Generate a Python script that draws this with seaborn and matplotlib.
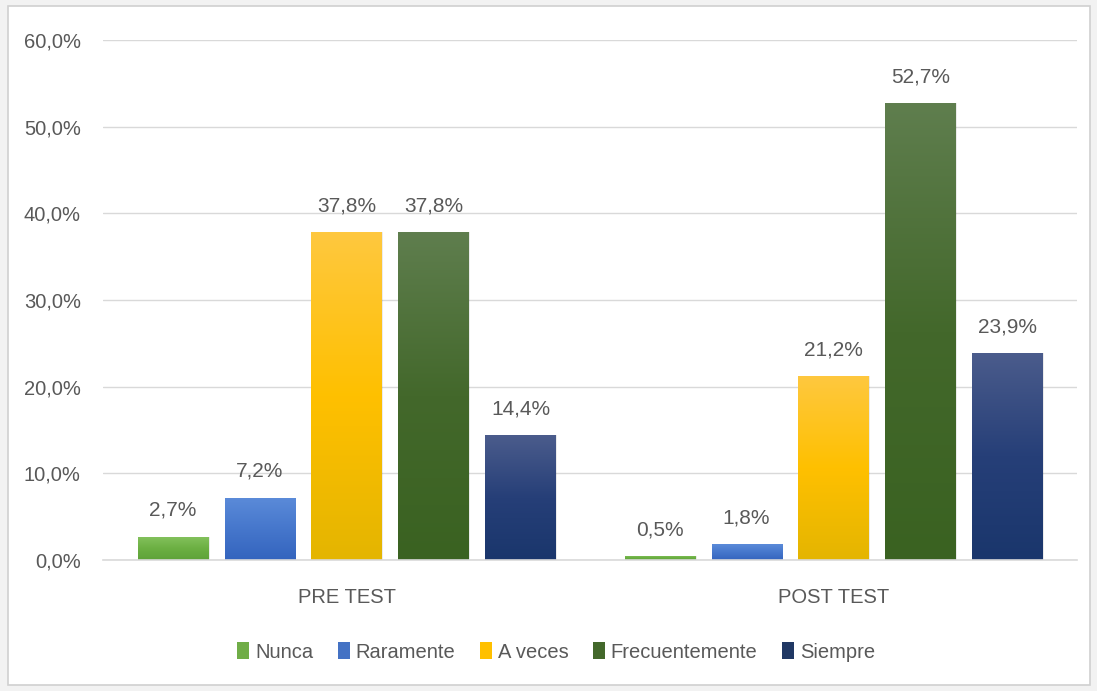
import matplotlib
matplotlib.use("Agg")
import matplotlib.pyplot as plt
import numpy as np
import pandas as pd
import seaborn as sns
from matplotlib.colors import LinearSegmentedColormap
from matplotlib.patches import Patch, Rectangle

# data
grupos = ["PRE TEST", "POST TEST"]
respuestas = ["Nunca", "Raramente", "A veces", "Frecuentemente", "Siempre"]
pre_test = [2.7, 7.2, 37.8, 37.8, 14.4]
post_test = [0.5, 1.8, 21.2, 52.7, 23.9]

# base colour plus gradient stops (top, middle, bottom)
colores = ["#70AD47", "#4472C4", "#FFC000", "#43682B", "#203864"]
gradientes = [
    ["#84C25E", "#6CB043", "#5EA238"],
    ["#5B8BD9", "#4677CC", "#3464BE"],
    ["#FEC83F", "#FFC000", "#E4B500"],
    ["#5F7E4E", "#43682B", "#3A6221"],
    ["#4B5C8C", "#263F78", "#1A366C"],
]

filas = []
for g, vals in zip(grupos, [pre_test, post_test]):
    for r, v in zip(respuestas, vals):
        filas.append({"Prueba": g, "Respuesta": r, "Porcentaje": v})
df = pd.DataFrame(filas)

sns.set_theme(style="white")
plt.rcParams["font.family"] = ["Liberation Sans Narrow", "Liberation Sans", "DejaVu Sans"]
gris = "#595959"

fig = plt.figure(figsize=(10.97, 6.91), dpi=100)
fig.patch.set_facecolor("#F2F2F2")
# white chart area inside the frame
fig.patches.append(Rectangle((8 / 1097, 6 / 691), 1082 / 1097, 679 / 691,
                             transform=fig.transFigure, facecolor="white",
                             edgecolor="#D0D0D0", linewidth=1.2, zorder=-5))
ax = fig.add_axes([103 / 1097, 1 - 560 / 691, 974 / 1097, 520 / 691])
ax.set_facecolor("none")

sns.barplot(data=df, x="Prueba", y="Porcentaje", hue="Respuesta",
            order=grupos, hue_order=respuestas, palette=colores,
            width=0.893, gap=0.195, legend=False, ax=ax, errorbar=None)

ax.set_ylim(0, 60)
ax.set_xlim(-0.5, 1.5)
ax.set_yticks(np.arange(0, 61, 10))
ax.set_yticklabels([f"{t:.1f}%".replace(".", ",") for t in np.arange(0, 61, 10)])
ax.set_xlabel("")
ax.set_ylabel("")
ax.yaxis.grid(True, color="#D9D9D9", linewidth=1)
ax.set_axisbelow(True)
for s in ["left", "right", "top"]:
    ax.spines[s].set_visible(False)
ax.spines["bottom"].set_color("#D9D9D9")
ax.spines["bottom"].set_linewidth(1.2)
ax.tick_params(axis="y", length=0, pad=16, labelsize=14.5, labelcolor=gris)
ax.tick_params(axis="x", length=0, pad=20, labelsize=14.5, labelcolor=gris)

# gradient fill for each bar, plus a soft shadow
for cont, stops in zip(ax.containers, gradientes):
    cmap = LinearSegmentedColormap.from_list("g", stops[::-1])
    for bar in cont:
        x, w, h = bar.get_x(), bar.get_width(), bar.get_height()
        ax.add_patch(Rectangle((x + 0.004, 0), w, h, color="black",
                               alpha=0.08, zorder=1.5, linewidth=0))
        grad = np.linspace(0, 1, 256).reshape(-1, 1)
        im = ax.imshow(grad, cmap=cmap, aspect="auto", origin="lower",
                       extent=[x, x + w, 0, h], zorder=2)
        im.set_clip_path(bar)
        bar.set_facecolor("none")
        bar.set_edgecolor("none")
    labels = [f"{b.get_height():.1f}%".replace(".", ",") for b in cont]
    ax.bar_label(cont, labels=labels, padding=12, fontsize=15, color=gris)

ax.set_xlim(-0.5, 1.5)
ax.set_ylim(0, 60)

handles = [Patch(facecolor=c, edgecolor="none") for c in colores]
fig.legend(handles, respuestas, loc="center", bbox_to_anchor=(556 / 1097, 1 - 652 / 691),
           ncol=5, frameon=False, fontsize=14.5, handlelength=0.6, handleheight=0.9,
           handletextpad=0.3, columnspacing=1.2, labelcolor=gris)

fig.savefig("out.png", dpi=100, facecolor=fig.get_facecolor())
